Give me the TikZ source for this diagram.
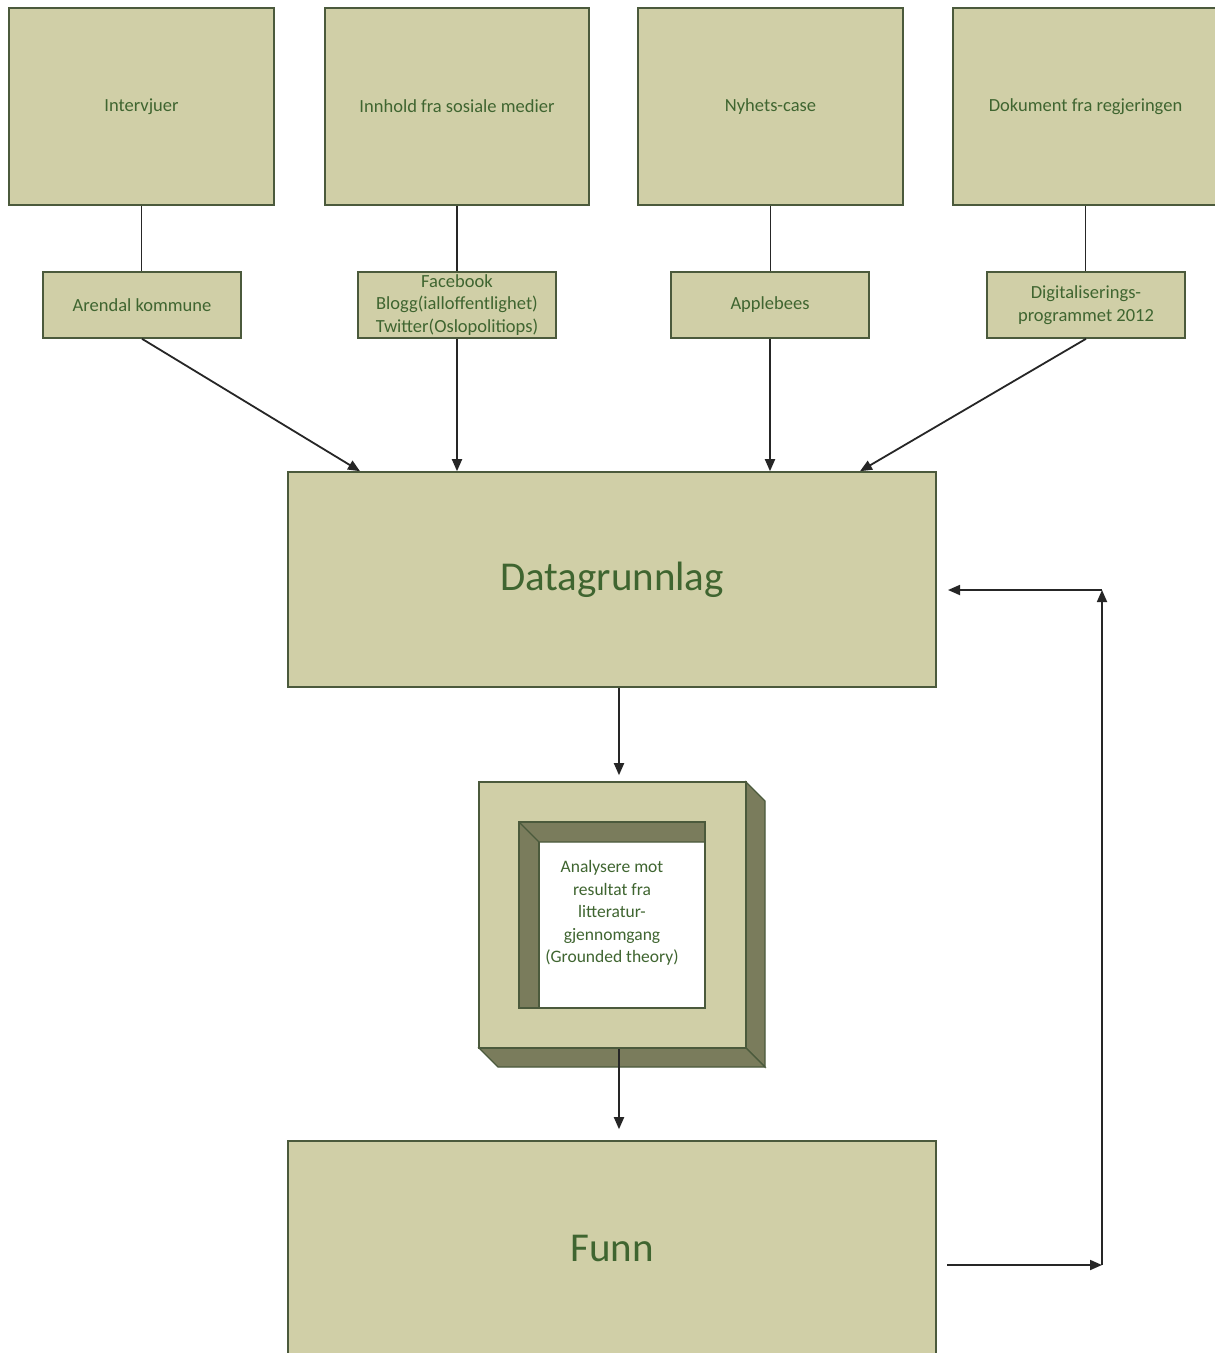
\documentclass[tikz,border=0pt]{standalone}
\usepackage{fontspec}
\setmainfont{Carlito}
\usetikzlibrary{arrows.meta}
\definecolor{boxfill}{HTML}{D0CFA7}
\definecolor{boxline}{HTML}{4B5A3C}
\definecolor{boxtext}{HTML}{3F6530}
\definecolor{bevel}{HTML}{7A7C5C}
\tikzset{
  src/.style={draw=boxline, line width=1.6pt, fill=boxfill, text=boxtext,
    minimum width=265pt, minimum height=197pt, inner sep=0pt,
    font=\fontsize{18.5}{22.5}\selectfont, align=center},
  subsrc/.style={draw=boxline, line width=1.6pt, fill=boxfill, text=boxtext,
    minimum width=198pt, minimum height=66pt, inner sep=0pt,
    font=\fontsize{18.5}{22.5}\selectfont, align=center},
  bigbox/.style={draw=boxline, line width=1.6pt, fill=boxfill, text=boxtext,
    minimum width=648pt, minimum height=215pt, inner sep=0pt,
    font=\fontsize{41}{48}\selectfont},
  link/.style={line width=1.8pt, draw=black!85},
  arr/.style={link, -{Triangle[length=12pt,width=10pt]}},
}
\begin{document}
\begin{tikzpicture}[x=1pt, y=-1pt]
\clip (0,0) rectangle (1215,1353);
\fill[white] (0,0) rectangle (1215,1353);

% source boxes
\node[src] (intv) at (141.5,106.5) {Intervjuer};
\node[src, minimum width=264pt] (some) at (457,106.5) {Innhold fra sosiale medier};
\node[src] (news) at (770.5,106.5) {Nyhets-case};
\node[src] (gov) at (1085.5,106.5) {Dokument fra regjeringen};

% concrete cases
\node[subsrc] (arendal) at (142,305) {Arendal kommune};
\node[subsrc] (social) at (457,305) {Facebook\\Blogg(ialloffentlighet)\\Twitter(Oslopolitiops)};
\node[subsrc] (apple) at (770,305) {Applebees};
\node[subsrc] (digi) at (1086,305) {Digitaliserings-\\programmet 2012};

\draw[link] (intv.south) -- (intv.south |- arendal.north);
\draw[link] (some.south) -- (some.south |- social.north);
\draw[link] (news.south) -- (news.south |- apple.north);
\draw[link] (gov.south) -- (gov.south |- digi.north);

% data basis
\node[bigbox] (data) at (612,579.5) {Datagrunnlag};

\draw[arr] (arendal.south) -- ([xshift=-252pt]data.north);
\draw[arr] (social.south) -- (social.south |- data.north);
\draw[arr] (apple.south) -- (apple.south |- data.north);
\draw[arr] (digi.south) -- ([xshift=248pt]data.north);

% analysis frame (bevelled)
\fill[bevel, draw=boxline, line width=1.2pt] (746,782) -- (765,801) -- (765,1067) -- (746,1048) -- cycle;
\fill[bevel, draw=boxline, line width=1.2pt] (479,1048) -- (746,1048) -- (765,1067) -- (498,1067) -- cycle;
\node[draw=boxline, line width=1.6pt, fill=boxfill, minimum width=267pt, minimum height=266pt, inner sep=0pt]
  (frame) at (612.5,915) {};
\fill[white] (519,822) rectangle (705,1008);
\fill[bevel] (519,822) -- (705,822) -- (705,842) -- (539,842) -- (539,1008) -- (519,1008) -- cycle;
\draw[boxline, line width=1.2pt] (519,822) -- (539,842) -- (705,842);
\draw[boxline, line width=1.2pt] (539,842) -- (539,1008);
\draw[boxline, line width=1.6pt] (519,822) rectangle (705,1008);
\node[text=boxtext, font=\fontsize{17.5}{22.5}\selectfont, align=center] (ana) at (612,913)
  {Analysere mot\\resultat fra\\litteratur-\\gjennomgang\\(Grounded theory)};

% findings
\node[bigbox] (funn) at (612,1248.5) {Funn};

\draw[arr, shorten >=6pt] ([xshift=7pt]data.south) -- ([xshift=6.5pt]frame.north);
\draw[arr, shorten >=11pt] ([xshift=6.5pt]frame.south) -- ([xshift=7pt]funn.north);

% feedback loop
\coordinate (fout) at (947,1265);
\coordinate (cornA) at (1102,1265);
\coordinate (cornB) at (1102,590);
\coordinate (fin) at (948,590);
\draw[arr] (fout) -- (cornA);
\draw[arr] (cornA) -- (cornB);
\draw[arr] (cornB) -- (fin);
\end{tikzpicture}
\end{document}
